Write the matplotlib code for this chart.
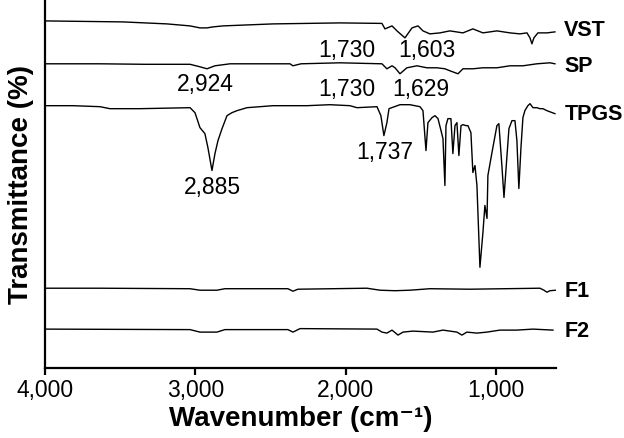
import matplotlib
matplotlib.use('Agg')
import matplotlib.pyplot as plt
from matplotlib.ticker import FuncFormatter

plt.rcParams['font.family'] = ['Liberation Sans', 'DejaVu Sans']

# FTIR spectra, transmittance in arbitrary units (stacked)
vst_wn = [4000, 3481, 3188, 3035, 2969, 2922, 2882, 2816, 2483, 2037, 1758, 1738, 1691,
          1658, 1605, 1558, 1518, 1485, 1439, 1372, 1306, 1219, 1153, 1086, 993, 906,
          840, 793, 773, 760, 747, 720, 660, 607]
vst_t = [348, 347, 345, 343, 341, 341, 342, 343, 345, 346, 345.5, 340, 343,
         338, 331, 341, 343, 338, 335, 336, 338, 336, 340, 336, 338, 336,
         335, 336, 331, 325, 331, 336, 336, 337]

sp_wn = [4000, 3634, 3335, 3035, 2969, 2922, 2869, 2769, 2370, 2350, 2297, 2037, 1758,
         1725, 1691, 1671, 1638, 1592, 1525, 1459, 1392, 1339, 1306, 1252, 1219, 1153,
         1086, 993, 906, 820, 727, 640, 607]
sp_t = [305, 305, 304.5, 304.5, 302, 300, 303, 305, 305, 303, 305, 306, 305,
        300, 303, 301, 295, 301, 303, 301, 301, 300, 298, 295, 300, 300,
        301, 301, 303, 303, 305, 306, 305]

tpgs_wn = [4000, 3814, 3634, 3568, 3368, 3035, 3002, 2969, 2936, 2916, 2889, 2869, 2849,
           2822, 2789, 2756, 2723, 2656, 2483, 2437, 2257, 2104, 1971, 1924, 1791, 1765,
           1745, 1725, 1711, 1638, 1572, 1505, 1485, 1465, 1452, 1425, 1405, 1385, 1365,
           1352, 1339, 1332, 1319, 1299, 1286, 1272, 1259, 1246, 1232, 1219, 1199, 1186,
           1166, 1153, 1139, 1126, 1106, 1086, 1073, 1059, 1053, 1026, 993, 980, 960,
           946, 926, 913, 893, 873, 860, 847, 833, 820, 807, 787, 773, 753, 727, 707,
           687, 660, 607]
tpgs_t = [263, 263, 262, 260, 260, 261, 256, 241, 235, 221, 198, 215, 228,
          240, 253, 256, 258, 261, 263, 263, 263, 264, 263, 261, 262, 253,
          233, 246, 260, 264, 264, 262, 258, 218, 246, 251, 253, 250, 238,
          230, 183, 243, 250, 250, 215, 243, 246, 213, 243, 244, 243, 243,
          236, 196, 203, 183, 101, 136, 163, 150, 193, 216, 243, 245, 203,
          171, 213, 240, 248, 248, 228, 180, 221, 251, 258, 263, 265, 261, 261, 260,
          260, 258, 255]

f1_wn = [4000, 3634, 3035, 2969, 2856, 2803, 2384, 2350, 2317, 1858, 1771, 1671, 1572,
         1439, 1173, 707, 680, 660, 640, 600]
f1_t = [80, 80, 79.5, 78, 78, 79.5, 79.5, 77, 79, 80, 78, 77.5, 78,
        79.5, 79, 80, 78, 76, 77.5, 78]

f2_wn = [4000, 3035, 2969, 2856, 2803, 2384, 2350, 2303, 1791, 1758, 1725, 1691, 1651,
         1618, 1552, 1419, 1352, 1259, 1226, 1193, 1126, 1059, 973, 860, 753, 620]
f2_t = [39, 38.5, 36, 36, 38.5, 38.5, 36, 39.5, 39, 36, 35, 38, 33,
        36, 37, 36, 38, 36, 33, 36, 35, 36, 38, 38, 39, 38]

names = ['VST', 'SP', 'TPGS', 'F1', 'F2']
label_t = [338, 302, 254, 77, 37]

# peak annotations: text, wavenumber, transmittance
peak_text = ['2,924', '2,885', '1,730', '1,603', '1,730', '1,629', '1,737']
peak_wn = [2936, 2889, 1991, 1459, 1991, 1498, 1738]
peak_t = [284, 181, 318, 318, 279, 279, 216]

fig = plt.figure(figsize=(6.24, 4.38), dpi=100)
ax = fig.add_axes([0.0721, 0.1598, 0.8189, 0.838])

for wn, t in [(vst_wn, vst_t), (sp_wn, sp_t), (tpgs_wn, tpgs_t), (f1_wn, f1_t), (f2_wn, f2_t)]:
    ax.plot(wn, t, color='black', lw=1.0)

for name, t in zip(names, label_t):
    ax.text(545, t, name, fontsize=15.5, fontweight='bold', va='center', ha='left',
            clip_on=False)

for s, wn, t in zip(peak_text, peak_wn, peak_t):
    ax.text(wn, t, s, fontsize=16.5, ha='center', va='center')

ax.set_xlim(4000, 600)
ax.set_ylim(0, 368)
ax.set_xticks([4000, 3000, 2000, 1000])
ax.xaxis.set_major_formatter(FuncFormatter(lambda v, p: '{:,.0f}'.format(v)))
ax.set_yticks([])
for side in ['top', 'right']:
    ax.spines[side].set_visible(False)
for side in ['left', 'bottom']:
    ax.spines[side].set_linewidth(1.6)
ax.tick_params(axis='x', direction='out', length=5, width=1.6, labelsize=16.5, pad=3)

ax.set_xlabel('Wavenumber (cm⁻¹)', fontsize=20, fontweight='bold', labelpad=3)
ax.set_ylabel('Transmittance (%)', fontsize=20, fontweight='bold', labelpad=8)

plt.savefig('out.png', dpi=100)
